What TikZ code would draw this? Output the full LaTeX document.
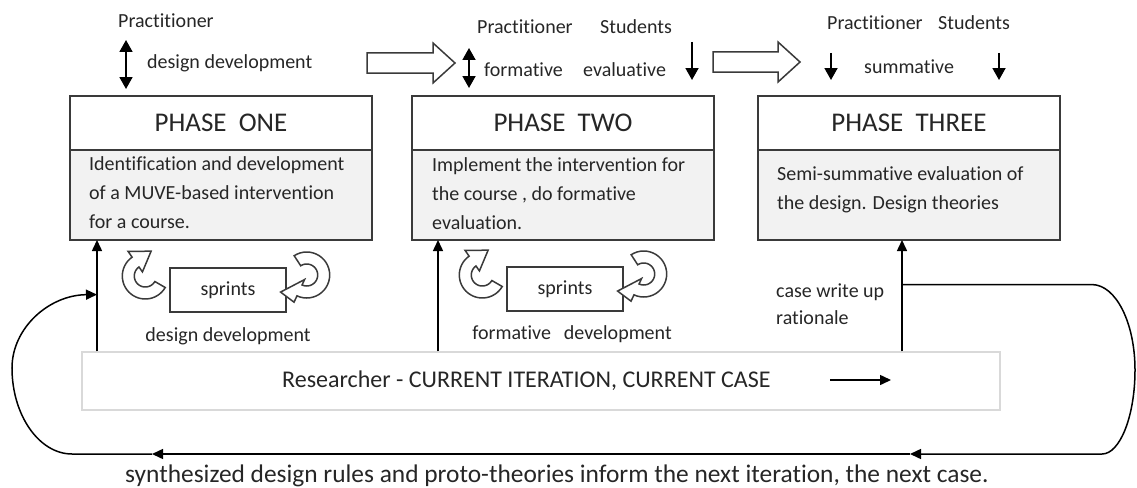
\documentclass[tikz,border=0pt]{standalone}
\usepackage{fontspec}
\setmainfont{Carlito}[Ligatures=CommonOff]
\usetikzlibrary{positioning,calc,arrows.meta}

\definecolor{boxline}{HTML}{3A3A3A}
\definecolor{bodyfill}{HTML}{F2F2F2}
\definecolor{resline}{HTML}{D9D9D9}
\definecolor{ink}{HTML}{262626}

\tikzset{
  phasetitle/.style={draw=boxline, line width=1.6pt, fill=white, minimum width=302pt, minimum height=54pt, inner sep=0pt, outer sep=0pt, font=\fontsize{27}{32}\selectfont, text=ink},
  phasebody/.style={draw=boxline, line width=1.6pt, fill=bodyfill, minimum width=302pt, minimum height=90pt, inner sep=0pt, outer sep=0pt},
  bodytext/.style={anchor=north west, inner sep=0pt, align=left, font=\fontsize{20}{29}\selectfont, text=ink},
  lbl/.style={inner sep=0pt, font=\fontsize{20}{24}\selectfont, text=ink},
  bigtxt/.style={inner sep=0pt, font=\fontsize{24}{28}\selectfont, text=ink},
  sprintbox/.style={draw=boxline, line width=1.4pt, fill=white, minimum width=116pt, minimum height=44pt, inner sep=0pt, font=\fontsize{20}{24}\selectfont, text=ink},
  conn/.style={line width=1.5pt, -{Triangle[width=10pt,length=11pt]}},
  biarr/.style={line width=1.8pt, {Triangle[width=13pt,length=12pt]}-{Triangle[width=13pt,length=12pt]}},
  downarr/.style={line width=1.8pt, -{Triangle[width=13pt,length=12pt]}},
  hollow/.style={draw=boxline, line width=1.5pt, fill=white},
  % curved hollow arrow: start angle, end angle, head turn
  pics/loop/.style n args={3}{code={
    \filldraw[hollow] plot[domain=#1:#2, samples=30] (\x:23) -- (#2:30) -- ($(#2:17)+(#2+90+#3:19)$) -- (#2:5) -- plot[domain=#1:#2, samples=30] (#1+#2-\x:11) -- cycle;
  }},
}

\begin{document}
\begin{tikzpicture}[x=1pt, y=-1pt]
\useasboundingbox (0,0) rectangle (1137,487);

% phase boxes
\node[phasetitle] (ph1) at (221,123) {PHASE\ \ ONE};
\node[phasebody, below=0pt of ph1] (ph1b) {};
\node[phasetitle, right=40pt of ph1] (ph2) {PHASE\ \ TWO};
\node[phasebody, below=0pt of ph2] (ph2b) {};
\node[phasetitle, right=44pt of ph2] (ph3) {PHASE\ \ THREE};
\node[phasebody, below=0pt of ph3] (ph3b) {};

\node[bodytext] (ph1t) at ([xshift=19pt,yshift=-6pt]ph1b.north west) {Identification and development\\of a MUVE-based intervention\\for a course.};
\node[bodytext] (ph2t) at ([xshift=20pt,yshift=-7pt]ph2b.north west) {Implement the intervention for\\the course , do formative\\evaluation.};
\node[bodytext] (ph3t) at ([xshift=19pt,yshift=-16pt]ph3b.north west) {Semi-summative evaluation of\\the design. Design theories};

% top labels
\node[lbl, anchor=base west] (pr1) at (118,28) {Practitioner};
\node[lbl, anchor=base west] (dd1) at (147,68) {design development};
\node[lbl, anchor=base west] (pr2) at (477,34) {Practitioner};
\node[lbl, anchor=base west] (st2) at (600,34) {Students};
\node[lbl, anchor=base west] (fo2) at (484,76) {formative};
\node[lbl, anchor=base west] (ev2) at (583,76) {evaluative};
\node[lbl, anchor=base west] (pr3) at (827,30) {Practitioner};
\node[lbl, anchor=base west] (st3) at (938,30) {Students};
\node[lbl, anchor=base west] (su3) at (864,74) {summative};

% top arrows
\draw[biarr] ([xshift=56pt,yshift=56pt]ph1.north west) -- ([xshift=56pt,yshift=7pt]ph1.north west);
\draw[biarr] ([xshift=57pt,yshift=48pt]ph2.north west) -- ([xshift=57pt,yshift=8pt]ph2.north west);
\draw[downarr] ([xshift=280pt,yshift=54pt]ph2.north west) -- ([xshift=280pt,yshift=16pt]ph2.north west);
\draw[downarr] ([xshift=73pt,yshift=43pt]ph3.north west) -- ([xshift=73pt,yshift=16pt]ph3.north west);
\draw[downarr] ([xshift=241pt,yshift=43pt]ph3.north west) -- ([xshift=241pt,yshift=16pt]ph3.north west);

% block arrows between phases
\filldraw[hollow] (367,53) -- (433,53) -- (433,43) -- (455,63) -- (433,83) -- (433,73) -- (367,73) -- cycle;
\filldraw[hollow] (713,52) -- (778,52) -- (778,42) -- (800,62) -- (778,82) -- (778,72) -- (713,72) -- cycle;

% sprints
\node[sprintbox] (sp1) at (228,290) {sprints};
\node[sprintbox] (sp2) at (565,289) {sprints};
\pic at ([shift={(-24pt,14pt)}]sp1.west) {loop={30}{235}{0}};
\pic at ([shift={(20pt,15pt)}]sp1.east) {loop={-123}{115}{-30}};
\pic at ([shift={(-24pt,14pt)}]sp2.west) {loop={30}{235}{0}};
\pic at ([shift={(20pt,15pt)}]sp2.east) {loop={-123}{115}{-30}};
\node[lbl, anchor=base] (dd2) at (228,341) {design development};
\node[lbl, anchor=base] (fd2) at (572,339) {formative\hspace{13pt}development};
\node[lbl, anchor=base west] (cw) at (776,297) {case write up};
\node[lbl, anchor=base west] (rat) at (776,324) {rationale};

% researcher
\node[draw=resline, line width=1.2pt, minimum width=918pt, minimum height=58pt, inner sep=0pt] (res) at (541,381) {};
\node[bigtxt, anchor=base west] (restxt) at (282,387) {Researcher - CURRENT ITERATION, CURRENT CASE};
\coordinate (ra) at (830,380);
\coordinate (rb) at (891,380);
\draw[conn] (ra) -- (rb);

% researcher to phases
\coordinate (u1) at ([xshift=27pt]ph1b.south west);
\coordinate (u2) at ([xshift=26pt]ph2b.south west);
\coordinate (u3) at ([xshift=144pt]ph3b.south west);
\coordinate (u1r) at (u1 |- res.north);
\coordinate (u2r) at (u2 |- res.north);
\coordinate (u3r) at (u3 |- res.north);
\draw[conn] (u1r) -- (u1);
\draw[conn] (u2r) -- (u2);
\draw[conn] (u3r) -- (u3);

% feedback to next iteration
\coordinate (fbtop) at ($(u3)!0.4!(u3r)$);
\coordinate (fbend) at ($(u1)!0.49!(u1r)$);
\coordinate (m1) at (910,454);
\coordinate (m2) at (152,454);
\draw[conn] (fbtop) -- (fbtop -| 1092,0) .. controls (1116,284.8) and (1135,323) .. (1135,370) .. controls (1135,416) and (1120,454) .. (1102,454) -- (m1);
\draw[conn] (m1) -- (m2);
\draw[conn] (m2) -- (72,454) .. controls (39,454) and (12,415) .. (12,368) .. controls (12,328) and (49,295) .. (fbend);
\node[bigtxt, anchor=base west, font=\fontsize{25.4}{30}\selectfont] (cap) at (125,482) {synthesized design rules and proto-theories inform the next iteration, the next case.};
\end{tikzpicture}
\end{document}
